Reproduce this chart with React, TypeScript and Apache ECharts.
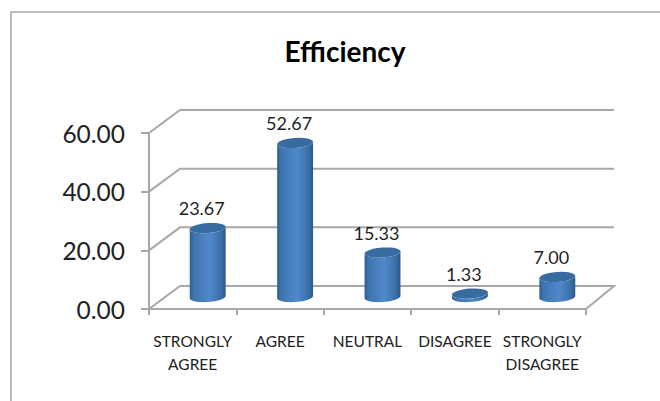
import React, { useEffect, useRef } from "react";
import * as echarts from "echarts";

const categories = ["STRONGLY\nAGREE", "AGREE", "NEUTRAL", "DISAGREE", "STRONGLY\nDISAGREE"];
const efficiency = [23.67, 52.67, 15.33, 1.33, 7.0];
const wallTicks = [0, 20, 40, 60];

const FONT = "Lato, 'Open Sans', sans-serif";
const GRID_COLOR = "#a8a8a8";
const DEPTH_X = 31;
const DEPTH_Y = 23;
const PLOT = { left: 149, top: 133, width: 437, height: 176 };

// Back wall and floor, projected from the front plane of the axes.
function renderWalls(params: any, api: any) {
  const v = api.value(0);
  const [x0, y] = api.coord([0, v]);
  const xStart = x0 - api.size([1, 0])[0] / 2;
  const xEnd = PLOT.left + PLOT.width;
  const points = [
    [xStart, y],
    [xStart + DEPTH_X, y - DEPTH_Y],
    [xEnd + 28, y - DEPTH_Y],
  ];
  if (v === 0) points.push([xEnd, y]);
  return {
    type: "polyline",
    silent: true,
    shape: { points },
    style: { fill: "none", stroke: GRID_COLOR, lineWidth: 2 },
  };
}

function ellipsePoints(cx: number, cy: number, rx: number, ry: number, tilt: number, from: number, to: number) {
  const pts: number[][] = [];
  const steps = 24;
  for (let i = 0; i <= steps; i++) {
    const a = from + ((to - from) * i) / steps;
    const ex = rx * Math.cos(a);
    const ey = ry * Math.sin(a);
    pts.push([cx + ex * Math.cos(tilt) - ey * Math.sin(tilt), cy + ex * Math.sin(tilt) + ey * Math.cos(tilt)]);
  }
  return pts;
}

// A cylinder standing on the middle of the floor, with its value printed above it.
function renderCylinder(params: any, api: any) {
  const [cx0, top0] = api.coord([api.value(0), api.value(1)]);
  const [, bottom0] = api.coord([api.value(0), 0]);
  const cx = cx0 + 15;
  const top = top0 - 11.5;
  const bottom = bottom0 - 12;
  const rx = 18;
  const ry = 5;
  const tilt = -0.07;
  const topArc = ellipsePoints(cx, top, rx, ry, tilt, 0, Math.PI);
  const bottomArc = ellipsePoints(cx, bottom, rx, ry, tilt, 0, Math.PI);
  const body = [...bottomArc, ...[...topArc].reverse()];
  return {
    type: "group",
    children: [
      {
        type: "polygon",
        shape: { points: body },
        style: {
          fill: new echarts.graphic.LinearGradient(0, 0, 1, 0, [
            { offset: 0, color: "#2f6096" },
            { offset: 0.12, color: "#3f74b0" },
            { offset: 0.55, color: "#5089cb" },
            { offset: 0.88, color: "#3a6ea8" },
            { offset: 1, color: "#2a5788" },
          ]),
        },
      },
      {
        type: "polygon",
        shape: { points: ellipsePoints(cx, top, rx, ry, tilt, 0, Math.PI * 2) },
        style: { fill: "#386b9f" },
      },
      {
        type: "text",
        style: {
          x: cx - 6,
          y: top - 20,
          text: efficiency[params.dataIndex].toFixed(2),
          fill: "#1f1f1f",
          font: `18px ${FONT}`,
          align: "center",
          verticalAlign: "middle",
        },
      },
    ],
  };
}

export default function App() {
  const ref = useRef<HTMLDivElement>(null);

  useEffect(() => {
    const chart = echarts.init(ref.current!, undefined, { renderer: "svg" });
    chart.setOption({
      animation: false,
      backgroundColor: "#ffffff",
      title: {
        text: "Efficiency",
        left: 340,
        top: 32,
        textAlign: "center",
        textStyle: { fontFamily: FONT, fontSize: 28, fontWeight: "bold", color: "#000000" },
      },
      graphic: [
        {
          type: "polyline",
          silent: true,
          shape: { points: [[11, 401], [11, 12], [660, 12]] },
          style: { fill: "none", stroke: "#a6a6a6", lineWidth: 1.5 },
        },
      ],
      grid: { ...PLOT },
      xAxis: {
        type: "category",
        data: categories,
        axisLine: { show: true, lineStyle: { color: GRID_COLOR, width: 2 } },
        axisTick: { show: true, alignWithLabel: false, length: 6, lineStyle: { color: GRID_COLOR, width: 2 } },
        axisLabel: { fontFamily: FONT, fontSize: 15.5, color: "#222222", lineHeight: 23, margin: 20, interval: 0 },
      },
      yAxis: {
        type: "value",
        min: 0,
        max: 60,
        interval: 20,
        splitLine: { show: false },
        axisLine: { show: true, lineStyle: { color: GRID_COLOR, width: 2 } },
        axisTick: { show: true, length: 8, lineStyle: { color: GRID_COLOR, width: 2 } },
        axisLabel: {
          fontFamily: FONT,
          fontSize: 24.5,
          color: "#222222",
          margin: 24,
          formatter: (v: number) => v.toFixed(2),
        },
      },
      series: [
        {
          type: "custom",
          renderItem: renderWalls,
          data: wallTicks.map((v) => [v]),
          encode: { y: 0 },
          silent: true,
          z: 1,
        },
        {
          type: "custom",
          renderItem: renderCylinder,
          data: efficiency.map((v, i) => [i, v]),
          encode: { x: 0, y: 1 },
          z: 3,
        },
      ],
    });
    return () => chart.dispose();
  }, []);

  return <div ref={ref} style={{ position: "fixed", left: 0, top: 0, width: 660, height: 401 }} />;
}
